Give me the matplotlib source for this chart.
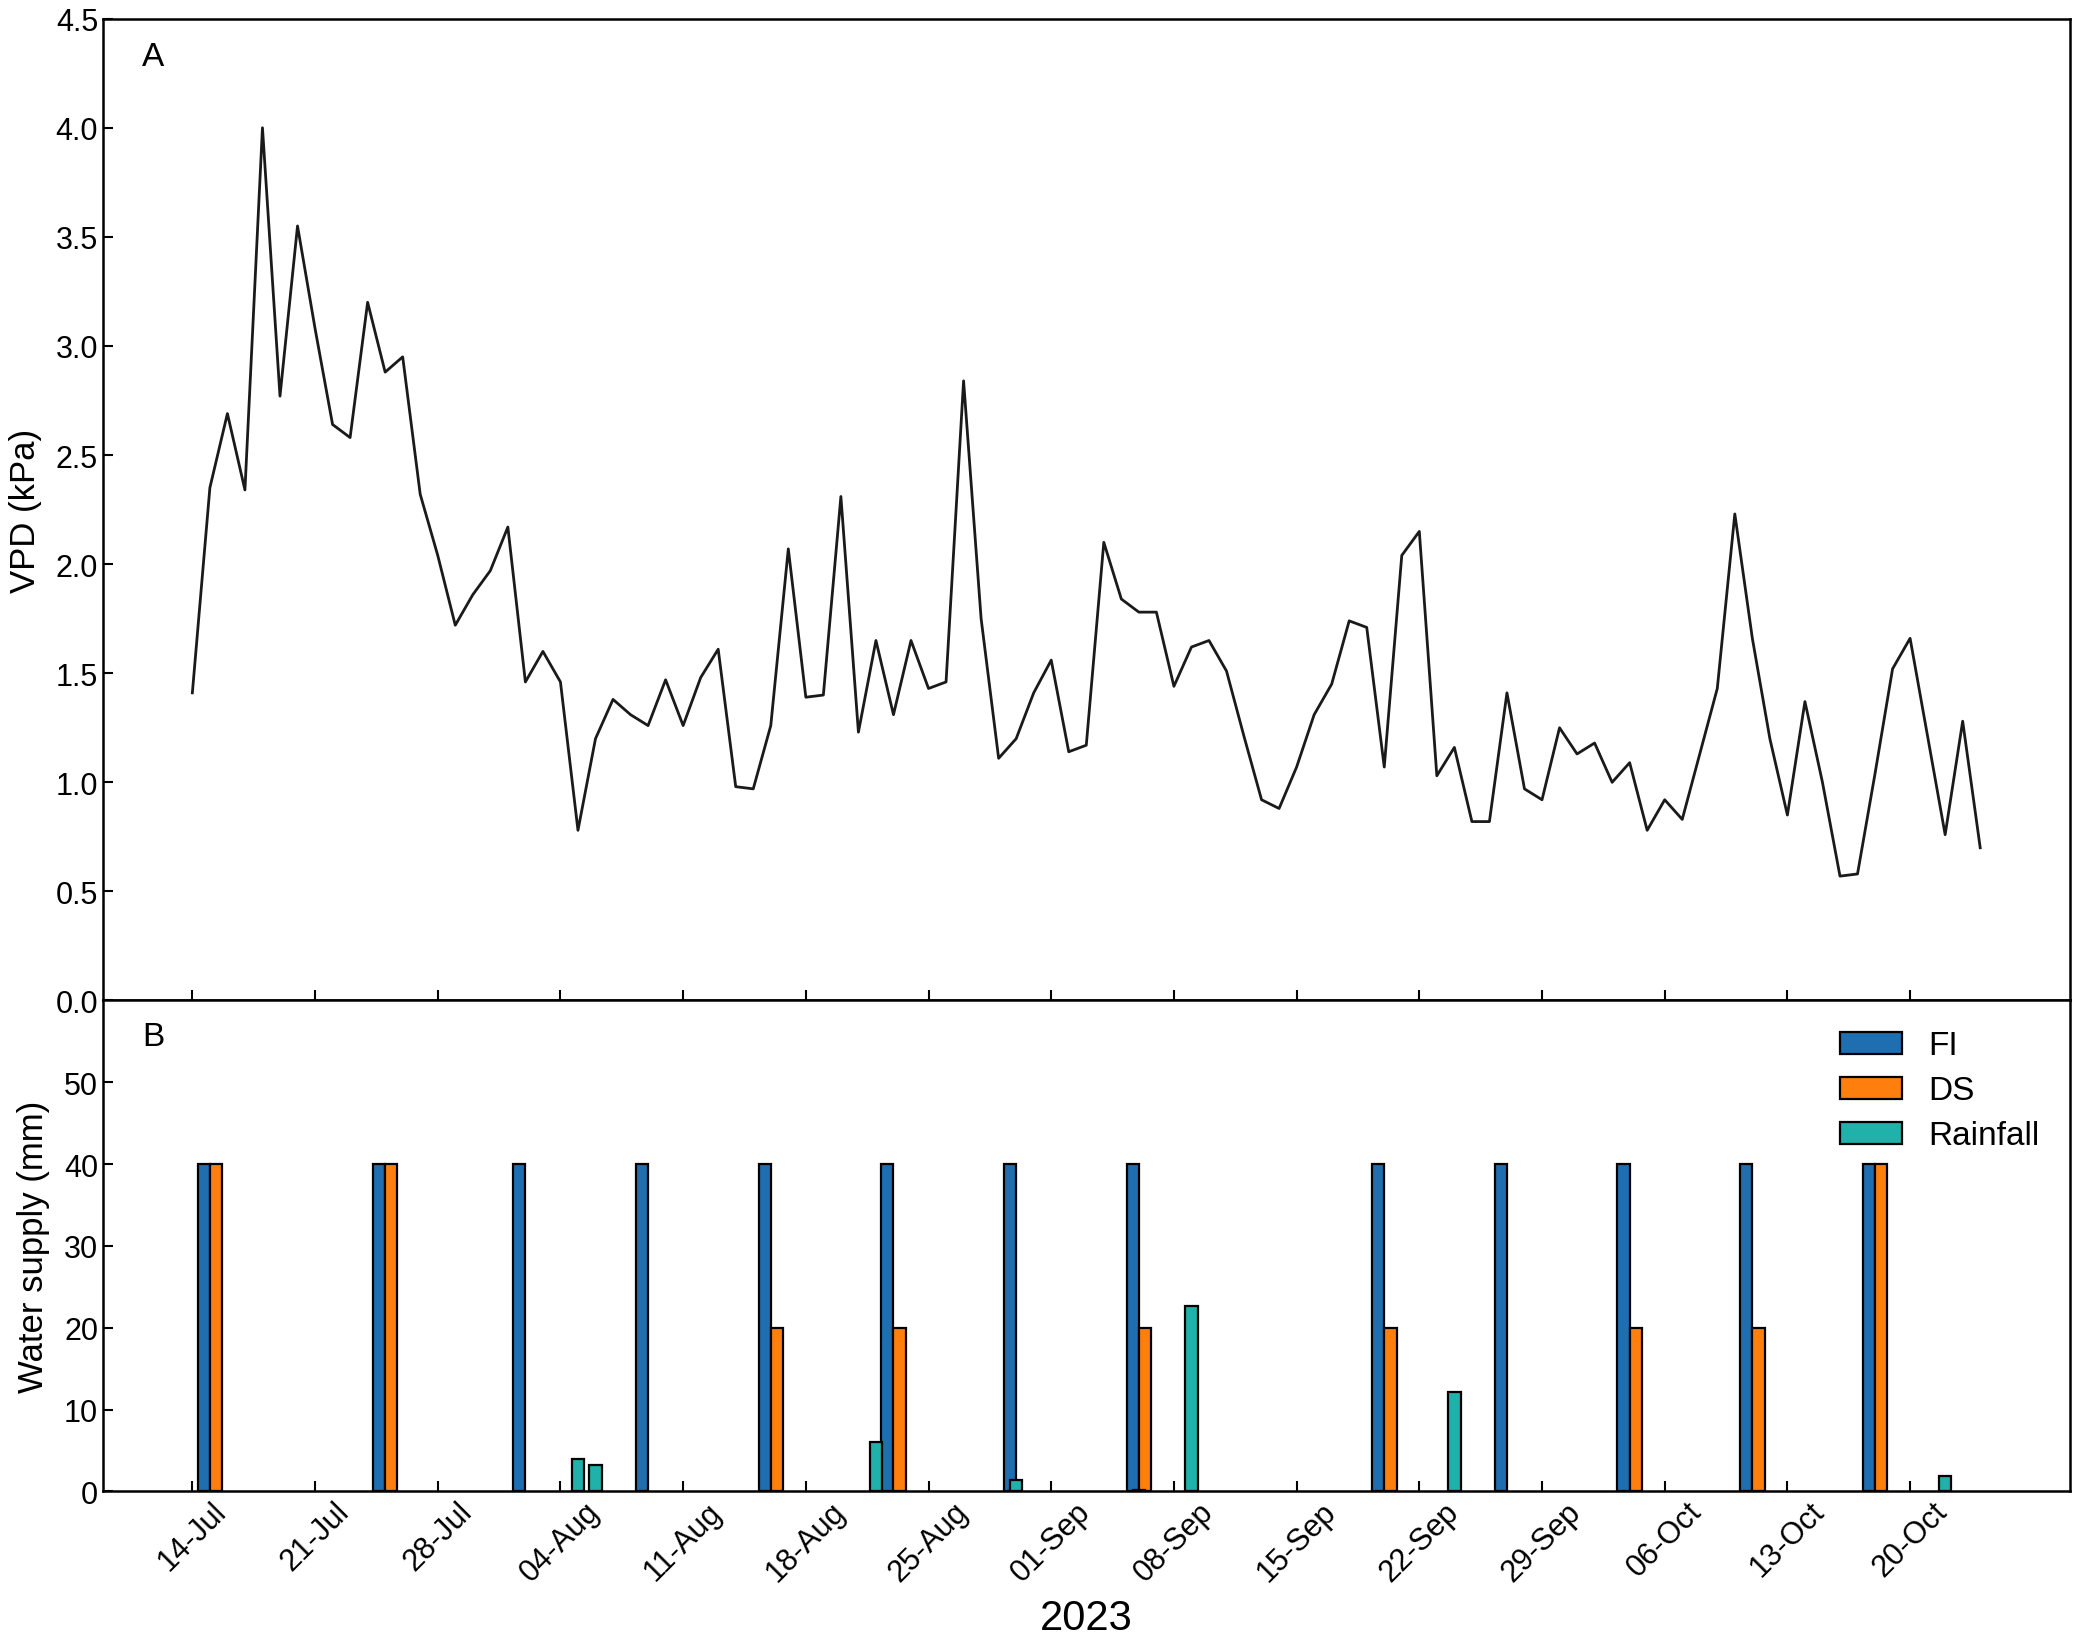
import numpy as np
import pandas as pd
import matplotlib
matplotlib.use("Agg")
import matplotlib.pyplot as plt
import matplotlib.dates as mdates

plt.rcParams['font.family'] = ['Liberation Sans', 'DejaVu Sans']

# VPD journalier (kPa), du 14-Jul au 24-Oct 2023
vpd_start = "2023-07-14"
vpd = [1.41, 2.35, 2.69, 2.34, 4.00, 2.77, 3.55, 3.08, 2.64, 2.58,
       3.20, 2.88, 2.95, 2.32, 2.04, 1.72, 1.86, 1.97, 2.17, 1.46,
       1.60, 1.46, 0.78, 1.20, 1.38, 1.31, 1.26, 1.47, 1.26, 1.48,
       1.61, 0.98, 0.97, 1.26, 2.07, 1.39, 1.40, 2.31, 1.23, 1.65,
       1.31, 1.65, 1.43, 1.46, 2.84, 1.75, 1.11, 1.20, 1.41, 1.56,
       1.14, 1.17, 2.10, 1.84, 1.78, 1.78, 1.44, 1.62, 1.65, 1.51,
       1.21, 0.92, 0.88, 1.07, 1.31, 1.45, 1.74, 1.71, 1.07, 2.04,
       2.15, 1.03, 1.16, 0.82, 0.82, 1.41, 0.97, 0.92, 1.25, 1.13,
       1.18, 1.00, 1.09, 0.78, 0.92, 0.83, 1.13, 1.43, 2.23, 1.66,
       1.20, 0.85, 1.37, 1.00, 0.57, 0.58, 1.04, 1.52, 1.66, 1.21,
       0.76, 1.28, 0.70]

# apports d'eau (mm)
irrig_dates = ["2023-07-15", "2023-07-25", "2023-08-02", "2023-08-09", "2023-08-16",
               "2023-08-23", "2023-08-30", "2023-09-06", "2023-09-20", "2023-09-27",
               "2023-10-04", "2023-10-11", "2023-10-18"]
fi = [40, 40, 40, 40, 40, 40, 40, 40, 40, 40, 40, 40, 40]
ds = [40, 40, 0, 0, 20, 20, 0, 20, 20, 0, 20, 20, 40]

rain_dates = ["2023-08-05", "2023-08-06", "2023-08-22", "2023-08-30", "2023-09-06",
              "2023-09-09", "2023-09-24", "2023-10-22"]
rain = [4.0, 3.2, 6.0, 1.4, 0.2, 22.6, 12.1, 1.85]

tick_dates = pd.date_range("2023-07-14", "2023-10-20", freq="7D")

if __name__ == '__main__':
    vpd_days = mdates.date2num(pd.date_range(vpd_start, periods=len(vpd), freq="D"))
    irr = mdates.date2num(pd.to_datetime(irrig_dates))
    rd = mdates.date2num(pd.to_datetime(rain_dates))
    fi_a = np.array(fi)
    ds_a = np.array(ds)
    w = 0.7

    fig = plt.figure(figsize=(20.8, 16.4), dpi=100)
    gs = fig.add_gridspec(2, 1, height_ratios=[2, 1], hspace=0,
                          left=0.0495, right=0.995, top=0.988, bottom=0.09)
    ax1 = fig.add_subplot(gs[0])
    ax2 = fig.add_subplot(gs[1], sharex=ax1)

    # panneau A : VPD
    ax1.plot(vpd_days, vpd, color='#1a1a1a', lw=2.0)
    ax1.set_ylim(0, 4.5)
    ax1.set_yticks(np.arange(0, 4.51, 0.5))
    ax1.yaxis.set_major_formatter(plt.FormatStrFormatter('%.1f'))
    ax1.set_ylabel("VPD (kPa)", fontsize=25, labelpad=10)
    ax1.text(0.02, 0.961, "A", transform=ax1.transAxes, fontsize=24, va='center')
    ax1.tick_params(axis='x', labelbottom=False)

    # panneau B : apports d'eau (on ne dessine pas les barres nulles)
    m_fi = fi_a > 0
    m_ds = ds_a > 0
    ax2.bar(irr[m_fi] - w / 2, fi_a[m_fi], width=w, color='#1f6fb0', edgecolor='black', lw=1.6, label='FI')
    ax2.bar(irr[m_ds] + w / 2, ds_a[m_ds], width=w, color='#ff7f0e', edgecolor='black', lw=1.6, label='DS')
    ax2.bar(rd, rain, width=w, color='#20b2aa', edgecolor='black', lw=1.6, label='Rainfall')
    ax2.set_ylim(0, 60)
    ax2.set_yticks(np.arange(0, 51, 10))
    ax2.set_ylabel("Water supply (mm)", fontsize=25, labelpad=10)
    ax2.text(0.02, 0.927, "B", transform=ax2.transAxes, fontsize=24, va='center')
    ax2.legend(loc='upper right', frameon=False, fontsize=24, handlelength=1.85,
               handleheight=0.65, labelspacing=0.42, handletextpad=0.8)

    ax2.set_xticks(mdates.date2num(tick_dates))
    ax2.xaxis.set_major_formatter(mdates.DateFormatter('%d-%b'))
    ax2.set_xlim(vpd_days[0] - 5.1, vpd_days[-1] + 5.1)
    plt.setp(ax2.get_xticklabels(), rotation=45, ha='center')
    ax2.set_xlabel("2023", fontsize=30, labelpad=8)

    for ax in (ax1, ax2):
        ax.tick_params(direction='in', labelsize=22, length=7, width=1.5)
        for sp in ax.spines.values():
            sp.set_linewidth(1.8)

    plt.savefig("out.png", dpi=100)
